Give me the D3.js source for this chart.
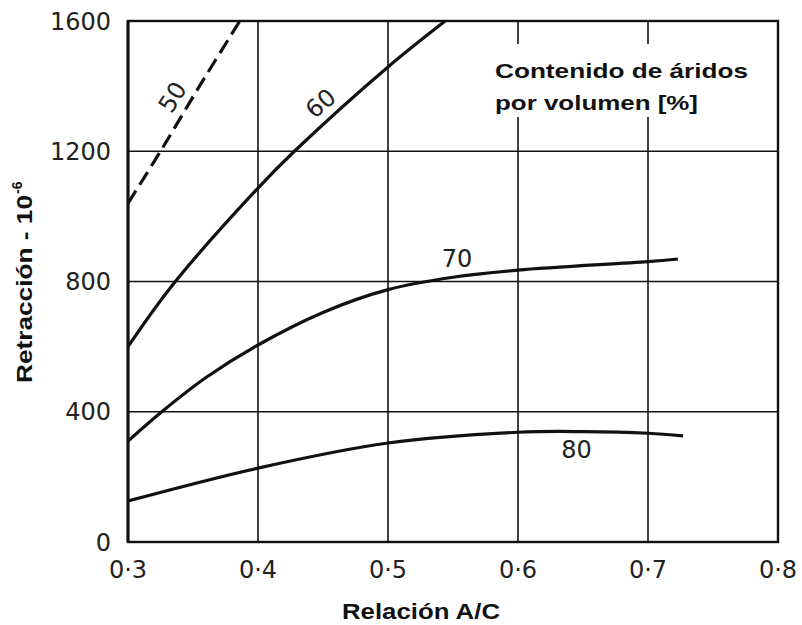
<!DOCTYPE html>
<html>
<head>
<meta http-equiv='Content-Type' content='text/html;charset=utf-8'/>
<title>Retracción</title>
<script src='https://d3js.org/d3.v7.min.js'></script>
<style>
  body { margin: 0; background: #fff; }
  .tick-label { font-family: 'DejaVu Sans', sans-serif; font-weight: normal; font-size: 24px; fill: #222; }
  .title { font-family: 'Liberation Sans', Arial, sans-serif; font-weight: bold; fill: #111; }
</style>
</head>
<body>
<script>
'use strict'

// axis ticks
const xTicks = [0.3, 0.4, 0.5, 0.6, 0.7, 0.8]
const xTickLabels = ['0·3', '0·4', '0·5', '0·6', '0·7', '0·8']
const yTicks = [0, 400, 800, 1200, 1600]

// curves: aggregate content by volume [%]
const curveNames = ['50', '60', '70', '80']
const ac50 = [0.3, 0.325, 0.355, 0.386]
const shr50 = [1040, 1200, 1400, 1600]
const ac60 = [0.3, 0.334, 0.4, 0.428, 0.5, 0.544]
const shr60 = [600, 788, 1087, 1200, 1459, 1600]
const ac70 = [0.3, 0.326, 0.36, 0.4, 0.45, 0.5, 0.55, 0.6, 0.7, 0.723]
const shr70 = [310, 400, 505, 605, 705, 775, 813, 835, 861, 869]
const ac80 = [0.3, 0.4, 0.5, 0.6, 0.65, 0.7, 0.727]
const shr80 = [126, 227, 304, 337, 339, 334, 326]

// curve labels (position in data units, rotation)
const labelAc = [0.334, 0.448, 0.553, 0.645]
const labelShr = [1367, 1348, 872, 283]
const labelRot = [-58, -40, 0, 0]

const width = 802
const height = 625

const x = d3.scaleLinear().domain([0.3, 0.8]).range([128, 778])
const y = d3.scaleLinear().domain([0, 1600]).range([542, 21])

const svg = d3.select('body').append('svg')
  .attr('width', width)
  .attr('height', height)

svg.append('defs').append('clipPath').attr('id', 'plot')
  .append('rect')
  .attr('x', x(0.3)).attr('y', y(1600))
  .attr('width', x(0.8) - x(0.3)).attr('height', y(0) - y(1600))

// grid
svg.append('g')
  .selectAll('line')
  .data(xTicks.slice(1, -1))
  .join('line')
  .attr('x1', d => x(d)).attr('x2', d => x(d))
  .attr('y1', y(0)).attr('y2', y(1600))
  .attr('stroke', '#111').attr('stroke-width', 1.6)

svg.append('g')
  .selectAll('line')
  .data(yTicks.slice(1, -1))
  .join('line')
  .attr('x1', x(0.3)).attr('x2', x(0.8))
  .attr('y1', d => y(d)).attr('y2', d => y(d))
  .attr('stroke', '#111').attr('stroke-width', 1.6)

// white box behind the legend text
svg.append('rect')
  .attr('x', 490).attr('y', 44)
  .attr('width', 272).attr('height', 73)
  .attr('fill', '#fff')

// frame
svg.append('rect')
  .attr('x', x(0.3)).attr('y', y(1600))
  .attr('width', x(0.8) - x(0.3)).attr('height', y(0) - y(1600))
  .attr('fill', 'none').attr('stroke', '#111').attr('stroke-width', 2.4)
svg.append('line')
  .attr('x1', x(0.3)).attr('x2', x(0.3))
  .attr('y1', y(0)).attr('y2', y(1600))
  .attr('stroke', '#111').attr('stroke-width', 3)

// curves
const line = d3.line()
  .x(d => x(d[0]))
  .y(d => y(d[1]))
  .curve(d3.curveCatmullRom.alpha(0.5))

const series = [
  { name: curveNames[0], pts: d3.zip(ac50, shr50), dash: '15,7' },
  { name: curveNames[1], pts: d3.zip(ac60, shr60), dash: null },
  { name: curveNames[2], pts: d3.zip(ac70, shr70), dash: null },
  { name: curveNames[3], pts: d3.zip(ac80, shr80), dash: null }
]

svg.append('g')
  .attr('clip-path', 'url(#plot)')
  .selectAll('path')
  .data(series)
  .join('path')
  .attr('d', d => line(d.pts))
  .attr('fill', 'none')
  .attr('stroke', '#111')
  .attr('stroke-width', 3.2)
  .attr('stroke-linecap', 'butt')
  .attr('stroke-dasharray', d => d.dash)

// curve labels
svg.append('g')
  .selectAll('text')
  .data(curveNames)
  .join('text')
  .attr('class', 'tick-label')
  .attr('text-anchor', 'middle')
  .attr('dy', '0.36em')
  .attr('transform', (d, i) => `translate(${x(labelAc[i])},${y(labelShr[i])}) rotate(${labelRot[i]})`)
  .text(d => d)

// tick labels
svg.append('g')
  .selectAll('text')
  .data(yTicks)
  .join('text')
  .attr('class', 'tick-label')
  .attr('x', 111)
  .attr('y', d => y(d))
  .attr('dy', '0.36em')
  .attr('text-anchor', 'end')
  .text(d => d)

svg.append('g')
  .selectAll('text')
  .data(xTicks)
  .join('text')
  .attr('class', 'tick-label')
  .attr('x', d => x(d))
  .attr('y', 569)
  .attr('dy', '0.36em')
  .attr('text-anchor', 'middle')
  .text((d, i) => xTickLabels[i])

// legend text
svg.append('text')
  .attr('class', 'title')
  .attr('x', 495).attr('y', 78)
  .attr('font-size', 21)
  .attr('textLength', 253).attr('lengthAdjust', 'spacingAndGlyphs')
  .text('Contenido de áridos')
svg.append('text')
  .attr('class', 'title')
  .attr('x', 495).attr('y', 110)
  .attr('font-size', 21)
  .attr('textLength', 203).attr('lengthAdjust', 'spacingAndGlyphs')
  .text('por volumen [%]')

// axis titles
svg.append('text')
  .attr('class', 'title')
  .attr('x', 342).attr('y', 619)
  .attr('font-size', 22)
  .attr('textLength', 158).attr('lengthAdjust', 'spacingAndGlyphs')
  .text('Relación A/C')

svg.append('text')
  .attr('class', 'title')
  .attr('transform', 'translate(32,383) rotate(-90)')
  .attr('font-size', 22)
  .attr('textLength', 188).attr('lengthAdjust', 'spacingAndGlyphs')
  .text('Retracción - 10')
svg.append('text')
  .attr('class', 'title')
  .attr('transform', 'translate(22,194) rotate(-90)')
  .attr('font-size', 14)
  .text('-6')
</script>
</body>
</html>
